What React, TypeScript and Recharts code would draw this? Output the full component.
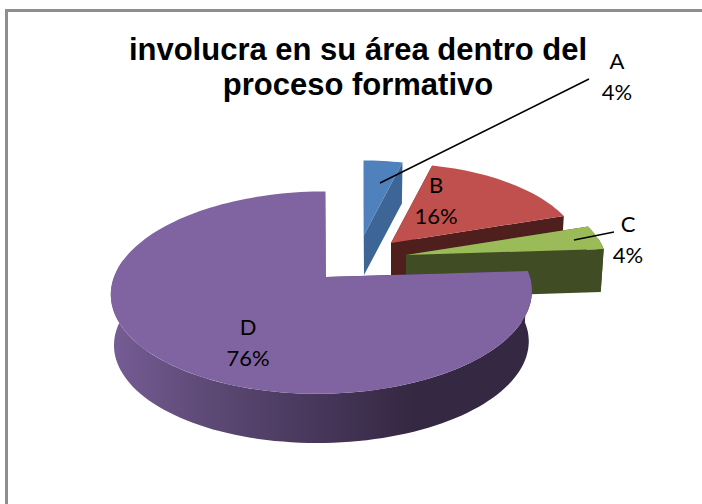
import React from 'react';
import { PieChart, Pie, Cell } from 'recharts';

const categories = ['A', 'B', 'C', 'D'];
const shares = [4, 16, 4, 76];
const topColors = ['#4f81bd', '#c0504d', '#9bbb59', '#8064a2'];
const sideColors = ['#3d6696', '#4f1f1d', '#404d24', 'url(#wallD)'];

// how the slices are pulled out of the pie (3d explosion), and their wall height
const explode = [
  { dx: 38, dy: -42, scale: 0.87, depth: 40 },
  { dx: 65, dy: -34, scale: 0.93, depth: 42 },
  { dx: 80, dy: -22, scale: 0.98, depth: 43 },
  { dx: 0, dy: 0, scale: 1, depth: 51 },
];

const labelSpots = [
  { x: 617, y: 69, line: [589, 79, 380, 183] },
  { x: 436, y: 193, line: null },
  { x: 628, y: 232, line: [614, 232, 574, 240] },
  { x: 248, y: 335, line: null },
];

const chartData = categories.map((name, i) => ({ name, value: shares[i] }));

const TILT = 0.475;
const PERSPECTIVE = 0.154;
const SHEAR = 4;
const LOW_RING = 0.985;

// pie angle (deg clockwise from top) to a point on the tilted disc
const project = (theta: number, cx: number, cy: number, r: number, shrink = 1) => {
  const t = (theta * Math.PI) / 180;
  const u = Math.sin(t);
  const v = Math.cos(t);
  const w = 1 + PERSPECTIVE * v;
  return [
    cx - SHEAR + (r * shrink * u) / w + (SHEAR * v) / w,
    cy - (r * TILT * shrink * v) / w,
  ];
};

const arcPoints = (from: number, to: number, cx: number, cy: number, r: number, shrink = 1) => {
  const out: number[][] = [];
  const steps = Math.max(2, Math.ceil(Math.abs(to - from) / 2));
  for (let i = 0; i <= steps; i++) {
    out.push(project(from + ((to - from) * i) / steps, cx, cy, r, shrink));
  }
  return out;
};

const toPath = (pts: number[][]) =>
  'M' + pts.map((p) => `${p[0].toFixed(1)},${p[1].toFixed(1)}`).join('L') + 'Z';

const Slice3D = (props: any) => {
  const { cx, cy, outerRadius, startAngle, endAngle, fill, name } = props;
  const idx = categories.indexOf(name ?? props.payload?.name);
  const e = explode[idx];
  const ax = cx + e.dx;
  const ay = cy + e.dy;
  const r = outerRadius * e.scale;
  const from = 90 - startAngle;
  const to = 90 - endAngle;
  const lowY = ay + e.depth;
  const side = sideColors[idx];

  const topStart = project(from, ax, ay, r);
  const topEnd = project(to, ax, ay, r);
  const lowStart = project(from, ax, lowY, r, LOW_RING);
  const lowEnd = project(to, ax, lowY, r, LOW_RING);

  const wallFrom = Math.max(from, 80);
  const wallTo = Math.min(to, 280);

  return (
    <g>
      <path d={toPath([[ax, ay], topStart, lowStart, [ax, lowY]])} fill={side} />
      <path d={toPath([[ax, ay], topEnd, lowEnd, [ax, lowY]])} fill={side} />
      {wallTo > wallFrom && (
        <path
          d={toPath([
            ...arcPoints(wallFrom, wallTo, ax, ay, r),
            ...arcPoints(wallTo, wallFrom, ax, lowY, r, LOW_RING),
          ])}
          fill={side}
        />
      )}
      <path d={toPath([[ax, ay], ...arcPoints(from, to, ax, ay, r)])} fill={fill} />
    </g>
  );
};

const SliceLabel = (props: any) => {
  const idx = categories.indexOf(props.name);
  const spot = labelSpots[idx];
  const textStyle = { fontFamily: 'Lato', fontSize: 22, fill: '#000' };
  return (
    <g>
      {spot.line && (
        <line
          x1={spot.line[0]}
          y1={spot.line[1]}
          x2={spot.line[2]}
          y2={spot.line[3]}
          stroke="#000"
          strokeWidth={1.5}
        />
      )}
      <text x={spot.x} y={spot.y} textAnchor="middle" style={textStyle}>
        {props.name}
      </text>
      <text x={spot.x} y={spot.y + 31} textAnchor="middle" style={textStyle}>
        {Math.round(props.percent * 100)}%
      </text>
    </g>
  );
};

const titleStyle = {
  fontFamily: 'Liberation Sans',
  fontWeight: 700,
  fontSize: 31,
  fill: '#000',
};

const App = () => {
  return (
    <div style={{ position: 'absolute', left: 0, top: 0, width: 702, height: 504 }}>
      <PieChart width={702} height={504} margin={{ top: 0, right: 0, bottom: 0, left: 0 }}>
        <defs>
          <linearGradient id="wallD" gradientUnits="userSpaceOnUse" x1="115" y1="0" x2="530" y2="0">
            <stop offset="0" stopColor="#755c94" />
            <stop offset="0.2" stopColor="#5f4b78" />
            <stop offset="0.5" stopColor="#463659" />
            <stop offset="0.72" stopColor="#352842" />
            <stop offset="1" stopColor="#352842" />
          </linearGradient>
        </defs>
        <path d="M6.5,504V10.5H702" fill="none" stroke="#8e8e8e" strokeWidth={3} />
        <Pie
          data={chartData}
          dataKey="value"
          nameKey="name"
          cx={326}
          cy={277}
          innerRadius={0}
          outerRadius={208}
          startAngle={90}
          endAngle={-270}
          paddingAngle={0}
          stroke="none"
          shape={Slice3D}
          label={SliceLabel}
          labelLine={false}
          isAnimationActive={false}
        >
          {categories.map((c, i) => (
            <Cell key={c} fill={topColors[i]} />
          ))}
        </Pie>
        <text x={358} y={60} textAnchor="middle" style={titleStyle}>
          involucra en su área dentro del
        </text>
        <text x={358} y={95} textAnchor="middle" style={titleStyle}>
          proceso formativo
        </text>
      </PieChart>
    </div>
  );
};

export default App;
